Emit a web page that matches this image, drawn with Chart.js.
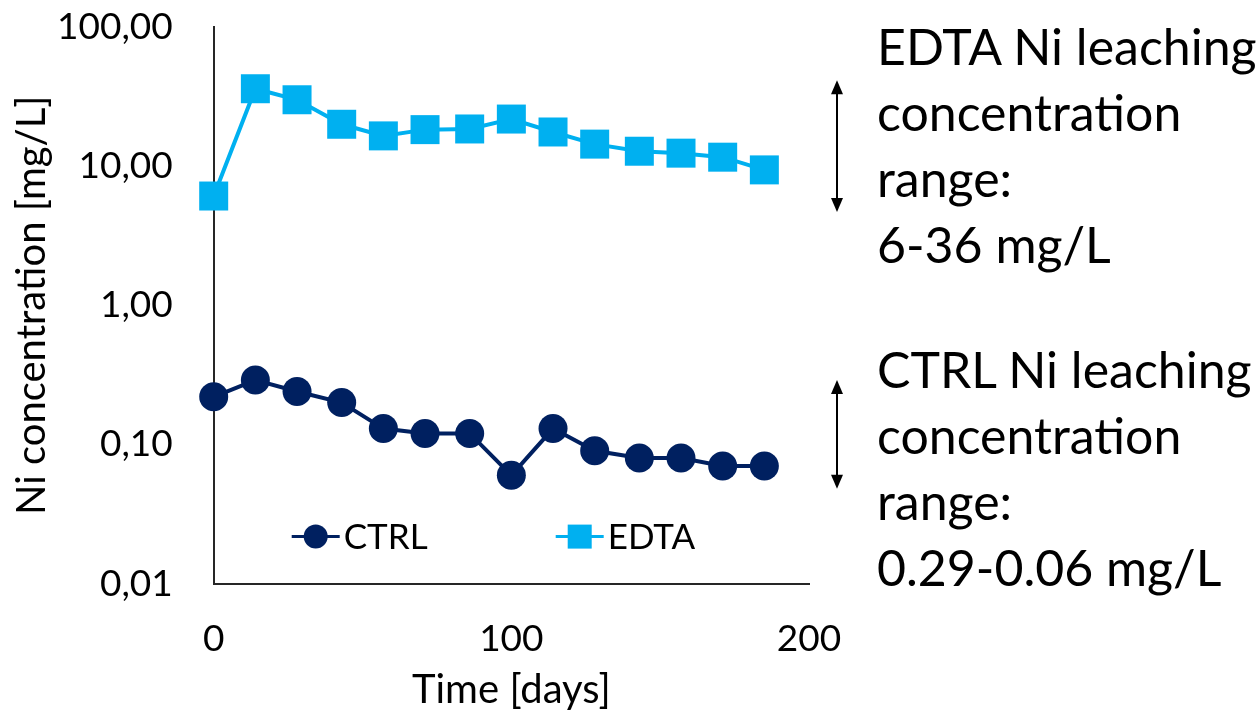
<!DOCTYPE html>
<html>
<head>
<meta charset="utf-8">
<script src="https://cdn.jsdelivr.net/npm/chart.js@4/dist/chart.umd.min.js"></script>
<style>
    body { margin: 0; background: #ffffff; }
    #wrap { position: relative; width: 1259px; height: 716px; }
    .note {
        position: absolute;
        left: 877px;
        font-family: Lato, "Noto Sans", sans-serif;
        font-size: 50px;
        line-height: 66px;
        color: #000000;
        white-space: nowrap;
    }
</style>
</head>
<body>
<div id="wrap">
    <canvas id="niChart" width="1259" height="716"></canvas>
    <div class="note" style="top: 13px;">EDTA Ni leaching<br>concentration<br>range:<br>6-36 mg/L</div>
    <div class="note" style="top: 336px;">CTRL Ni leaching<br>concentration<br>range:<br>0.29-0.06 mg/L</div>
</div>
<script>
const days = [0, 14, 28, 43, 57, 71, 86, 100, 114, 128, 143, 157, 171, 185];
const ctrlValues = [0.22, 0.29, 0.24, 0.20, 0.13, 0.12, 0.12, 0.06, 0.13, 0.09, 0.08, 0.08, 0.07, 0.07];
const edtaValues = [6.1, 36, 30, 20, 16.5, 18.3, 18.5, 21.8, 17.6, 14.4, 12.8, 12.4, 11.6, 9.4];
const yTicks = [0.01, 0.1, 1, 10, 100];
const xTicks = [0, 100, 200];

const navy = "#002060";
const sky = "#00B0F0";
const fontFamily = "Lato, 'Noto Sans', sans-serif";

function toPoints(values) {
    return values.map((v, i) => ({ x: days[i], y: v }));
}

// legend drawn inside the plot, near the bottom
const innerLegend = {
    id: "innerLegend",
    afterDraw(chart) {
        const ctx = chart.ctx;
        const area = chart.chartArea;
        const y = area.bottom - 47;
        const items = [
            { label: "CTRL", color: navy, shape: "circle", x: area.left + 78 },
            { label: "EDTA", color: sky, shape: "rect", x: area.left + 342 }
        ];
        ctx.save();
        items.forEach(item => {
            ctx.strokeStyle = item.color;
            ctx.fillStyle = item.color;
            ctx.lineWidth = 3;
            ctx.beginPath();
            ctx.moveTo(item.x, y);
            ctx.lineTo(item.x + 48, y);
            ctx.stroke();
            const cx = item.x + 24;
            if (item.shape === "circle") {
                ctx.beginPath();
                ctx.arc(cx, y, 12, 0, Math.PI * 2);
                ctx.fill();
            } else {
                ctx.fillRect(cx - 12, y - 12, 24, 24);
            }
            ctx.fillStyle = "#000000";
            ctx.font = "35px " + fontFamily;
            ctx.textBaseline = "middle";
            ctx.textAlign = "left";
            ctx.fillText(item.label, item.x + 52, y + 1);
        });
        ctx.restore();
    }
};

// double-headed arrows beside the plot showing each series' range
const rangeArrows = {
    id: "rangeArrows",
    afterDraw(chart) {
        const ctx = chart.ctx;
        const yScale = chart.scales.y;
        const x = chart.chartArea.right + 28;
        const ranges = [
            [Math.max(...edtaValues) * 1.15, Math.min(...edtaValues) / 1.3],
            [Math.max(...ctrlValues) * 1.0, Math.min(...ctrlValues) / 1.25]
        ];
        ctx.save();
        ctx.strokeStyle = "#000000";
        ctx.fillStyle = "#000000";
        ctx.lineWidth = 2;
        ranges.forEach(r => {
            const top = yScale.getPixelForValue(r[0]);
            const bottom = yScale.getPixelForValue(r[1]);
            ctx.beginPath();
            ctx.moveTo(x, top + 8);
            ctx.lineTo(x, bottom - 8);
            ctx.stroke();
            ctx.beginPath();
            ctx.moveTo(x, top);
            ctx.lineTo(x - 6, top + 14);
            ctx.lineTo(x + 6, top + 14);
            ctx.closePath();
            ctx.fill();
            ctx.beginPath();
            ctx.moveTo(x, bottom);
            ctx.lineTo(x - 6, bottom - 14);
            ctx.lineTo(x + 6, bottom - 14);
            ctx.closePath();
            ctx.fill();
        });
        ctx.restore();
    }
};

// invisible tick marks give the gap between axis line and labels
const hiddenTicks = {
    display: true,
    drawOnChartArea: false,
    drawTicks: true,
    tickColor: "rgba(0,0,0,0)"
};

const canvasID = document.getElementById("niChart");
const niChart = new Chart(canvasID, {
    type: "line",
    data: {
        datasets: [{
            label: "CTRL",
            data: toPoints(ctrlValues),
            borderColor: navy,
            backgroundColor: navy,
            borderWidth: 4,
            pointStyle: "circle",
            pointRadius: 14.5,
            pointBorderWidth: 0,
            tension: 0,
            clip: false
        }, {
            label: "EDTA",
            data: toPoints(edtaValues),
            borderColor: sky,
            backgroundColor: sky,
            borderWidth: 4,
            pointStyle: "rect",
            pointRadius: 20.5,
            pointBorderWidth: 0,
            tension: 0,
            clip: false
        }]
    },
    options: {
        responsive: false,
        animation: false,
        layout: {
            padding: { left: 8, right: 450, top: 27, bottom: 2 }
        },
        plugins: {
            legend: { display: false },
            tooltip: { enabled: false }
        },
        scales: {
            x: {
                type: "linear",
                min: 0,
                max: 200,
                afterBuildTicks: function (axis) {
                    axis.ticks = xTicks.map(v => ({ value: v }));
                },
                ticks: {
                    color: "#000000",
                    padding: 0,
                    font: { family: fontFamily, size: 37 }
                },
                grid: Object.assign({ tickLength: 33 }, hiddenTicks),
                border: { display: true, color: "#262626", width: 2 },
                title: {
                    display: true,
                    text: "Time [days]",
                    color: "#000000",
                    font: { family: fontFamily, size: 40 },
                    padding: { top: 5, bottom: 0 }
                }
            },
            y: {
                type: "logarithmic",
                min: 0.01,
                max: 100,
                afterBuildTicks: function (axis) {
                    axis.ticks = yTicks.map(v => ({ value: v }));
                },
                ticks: {
                    color: "#000000",
                    padding: 0,
                    font: { family: fontFamily, size: 37 },
                    callback: function (value) {
                        return Number(value).toFixed(2).replace(".", ",");
                    }
                },
                grid: Object.assign({ tickLength: 41 }, hiddenTicks),
                border: { display: true, color: "#262626", width: 2 },
                title: {
                    display: true,
                    text: "Ni concentration [mg/L]",
                    color: "#000000",
                    font: { family: fontFamily, size: 40 },
                    padding: { top: 0, bottom: 1 }
                }
            }
        }
    },
    plugins: [innerLegend, rangeArrows]
});
</script>
</body>
</html>
